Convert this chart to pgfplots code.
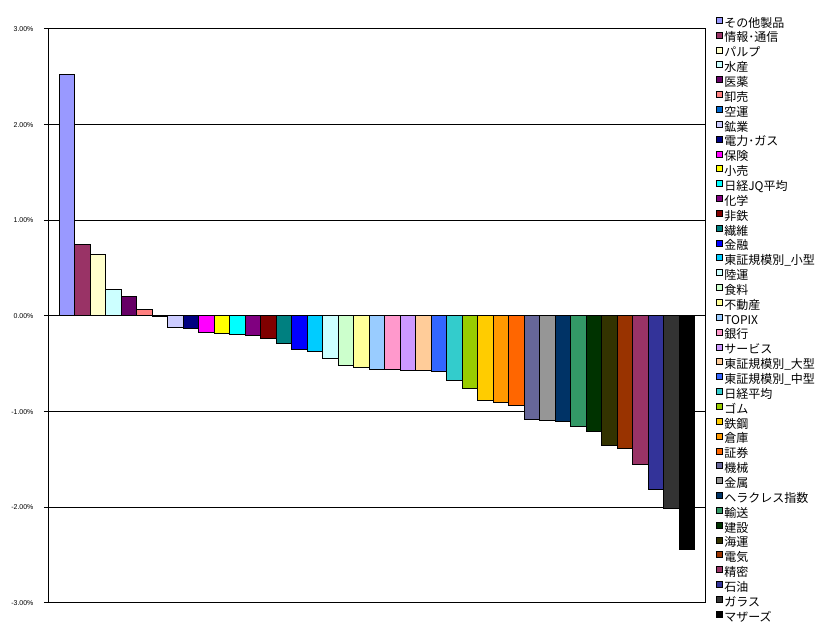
\documentclass[border=0pt]{standalone}
\usepackage{fontspec}
\usepackage{pgfplots}
\pgfplotsset{compat=1.18}
\setmainfont{Liberation Sans}
\newfontfamily\jp{Noto Sans CJK JP}
\definecolor{c1}{HTML}{9999FF}
\definecolor{c2}{HTML}{993366}
\definecolor{c3}{HTML}{FFFFCC}
\definecolor{c4}{HTML}{CCFFFF}
\definecolor{c5}{HTML}{660066}
\definecolor{c6}{HTML}{FF8080}
\definecolor{c7}{HTML}{0066CC}
\definecolor{c8}{HTML}{CCCCFF}
\definecolor{c9}{HTML}{000080}
\definecolor{c10}{HTML}{FF00FF}
\definecolor{c11}{HTML}{FFFF00}
\definecolor{c12}{HTML}{00FFFF}
\definecolor{c13}{HTML}{800080}
\definecolor{c14}{HTML}{800000}
\definecolor{c15}{HTML}{008080}
\definecolor{c16}{HTML}{0000FF}
\definecolor{c17}{HTML}{00CCFF}
\definecolor{c18}{HTML}{CCFFFF}
\definecolor{c19}{HTML}{CCFFCC}
\definecolor{c20}{HTML}{FFFF99}
\definecolor{c21}{HTML}{99CCFF}
\definecolor{c22}{HTML}{FF99CC}
\definecolor{c23}{HTML}{CC99FF}
\definecolor{c24}{HTML}{FFCC99}
\definecolor{c25}{HTML}{3366FF}
\definecolor{c26}{HTML}{33CCCC}
\definecolor{c27}{HTML}{99CC00}
\definecolor{c28}{HTML}{FFCC00}
\definecolor{c29}{HTML}{FF9900}
\definecolor{c30}{HTML}{FF6600}
\definecolor{c31}{HTML}{666699}
\definecolor{c32}{HTML}{969696}
\definecolor{c33}{HTML}{003366}
\definecolor{c34}{HTML}{339966}
\definecolor{c35}{HTML}{003300}
\definecolor{c36}{HTML}{333300}
\definecolor{c37}{HTML}{993300}
\definecolor{c38}{HTML}{993366}
\definecolor{c39}{HTML}{333399}
\definecolor{c40}{HTML}{333333}
\definecolor{c41}{HTML}{000000}
\begin{document}
\begin{tikzpicture}
\useasboundingbox (0,0) rectangle (824pt,631pt);
\begin{axis}[
  at={(48pt,28pt)}, anchor=south west,
  scale only axis, width=657pt, height=574pt,
  xmin=-1.21, xmax=41.15,
  ymin=-3, ymax=3,
  xtick=\empty,
  ytick={-3,-2,-1,0,1,2,3},
  yticklabels={-3.00\%,-2.00\%,-1.00\%,0.00\%,1.00\%,2.00\%,3.00\%},
  yticklabel style={font=\fontsize{7}{8}\selectfont, xshift=-7pt},
  tick pos=left, tick align=outside,
  major tick length=4pt,
  ymajorgrids,
  grid style={black, line width=1pt},
  axis line style={black, line width=1pt},
  every tick/.style={black, line width=1pt},
  legend cell align=left,
  legend image code/.code={\draw[#1, draw=black, line width=0.6pt] (0pt,1.5pt) rectangle (6pt,7.5pt);},
  legend style={draw=none, fill=none, inner sep=0pt, at={(rel axis cs:1.0167,1.0215)}, anchor=north west,
    font=\jp\fontsize{12}{14}\selectfont, row sep=0pt, column sep=1.5pt,
    nodes={inner sep=0pt, text height=9.5pt, text depth=4.6pt}},
  every axis plot/.append style={ybar, bar width=1, bar shift=0pt, draw=black, line width=1pt},
]
\addplot[fill=c1] coordinates {(0,2.52)}; \addlegendentry{その他製品}
\addplot[fill=c2] coordinates {(1,0.75)}; \addlegendentry{情報･通信}
\addplot[fill=c3] coordinates {(2,0.64)}; \addlegendentry{パルプ}
\addplot[fill=c4] coordinates {(3,0.28)}; \addlegendentry{水産}
\addplot[fill=c5] coordinates {(4,0.20)}; \addlegendentry{医薬}
\addplot[fill=c6] coordinates {(5,0.07)}; \addlegendentry{卸売}
\addplot[fill=c7] coordinates {(6,-0.01)}; \addlegendentry{空運}
\addplot[fill=c8] coordinates {(7,-0.12)}; \addlegendentry{鉱業}
\addplot[fill=c9] coordinates {(8,-0.13)}; \addlegendentry{電力･ガス}
\addplot[fill=c10] coordinates {(9,-0.17)}; \addlegendentry{保険}
\addplot[fill=c11] coordinates {(10,-0.18)}; \addlegendentry{小売}
\addplot[fill=c12] coordinates {(11,-0.19)}; \addlegendentry{日経JQ平均}
\addplot[fill=c13] coordinates {(12,-0.20)}; \addlegendentry{化学}
\addplot[fill=c14] coordinates {(13,-0.24)}; \addlegendentry{非鉄}
\addplot[fill=c15] coordinates {(14,-0.29)}; \addlegendentry{繊維}
\addplot[fill=c16] coordinates {(15,-0.35)}; \addlegendentry{金融}
\addplot[fill=c17] coordinates {(16,-0.37)}; \addlegendentry{東証規模別\_小型}
\addplot[fill=c18] coordinates {(17,-0.44)}; \addlegendentry{陸運}
\addplot[fill=c19] coordinates {(18,-0.52)}; \addlegendentry{食料}
\addplot[fill=c20] coordinates {(19,-0.54)}; \addlegendentry{不動産}
\addplot[fill=c21] coordinates {(20,-0.56)}; \addlegendentry{TOPIX}
\addplot[fill=c22] coordinates {(21,-0.56)}; \addlegendentry{銀行}
\addplot[fill=c23] coordinates {(22,-0.57)}; \addlegendentry{サービス}
\addplot[fill=c24] coordinates {(23,-0.57)}; \addlegendentry{東証規模別\_大型}
\addplot[fill=c25] coordinates {(24,-0.58)}; \addlegendentry{東証規模別\_中型}
\addplot[fill=c26] coordinates {(25,-0.67)}; \addlegendentry{日経平均}
\addplot[fill=c27] coordinates {(26,-0.76)}; \addlegendentry{ゴム}
\addplot[fill=c28] coordinates {(27,-0.88)}; \addlegendentry{鉄鋼}
\addplot[fill=c29] coordinates {(28,-0.90)}; \addlegendentry{倉庫}
\addplot[fill=c30] coordinates {(29,-0.94)}; \addlegendentry{証券}
\addplot[fill=c31] coordinates {(30,-1.08)}; \addlegendentry{機械}
\addplot[fill=c32] coordinates {(31,-1.09)}; \addlegendentry{金属}
\addplot[fill=c33] coordinates {(32,-1.10)}; \addlegendentry{ヘラクレス指数}
\addplot[fill=c34] coordinates {(33,-1.16)}; \addlegendentry{輸送}
\addplot[fill=c35] coordinates {(34,-1.21)}; \addlegendentry{建設}
\addplot[fill=c36] coordinates {(35,-1.35)}; \addlegendentry{海運}
\addplot[fill=c37] coordinates {(36,-1.38)}; \addlegendentry{電気}
\addplot[fill=c38] coordinates {(37,-1.55)}; \addlegendentry{精密}
\addplot[fill=c39] coordinates {(38,-1.81)}; \addlegendentry{石油}
\addplot[fill=c40] coordinates {(39,-2.01)}; \addlegendentry{ガラス}
\addplot[fill=c41] coordinates {(40,-2.44)}; \addlegendentry{マザーズ}
\end{axis}
\end{tikzpicture}
\end{document}
